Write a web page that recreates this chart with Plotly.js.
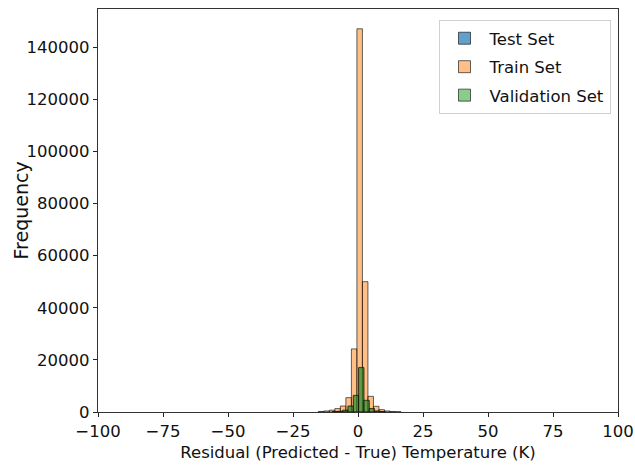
<!DOCTYPE html>
<html>
<head>
<meta charset="utf-8">
<script src="https://cdn.plot.ly/plotly-3.0.1.min.js"></script>
<style>html,body{margin:0;padding:0;background:#fff;}#chart{width:635px;height:465px;}</style>
</head>
<body>
<div id="chart"></div>
<script>
// Bin edges (K) and counts
const trainEdges = [-15.26, -13.14, -11.02, -8.90, -6.78, -4.66, -2.54, -0.42, 1.70, 3.82, 5.94, 8.06, 10.18, 12.30, 14.42, 16.54];
const trainCounts = [200, 400, 700, 1300, 2300, 5500, 24200, 147000, 50000, 6000, 2200, 900, 400, 200, 100];

const valEdges = [-9.97, -7.93, -5.89, -3.85, -1.81, 0.23, 2.27, 4.31, 6.35, 8.39, 10.43];
const valCounts = [100, 250, 700, 2300, 6400, 17100, 4500, 1300, 400, 150];

const testEdges = [-9.97, -7.93, -5.89, -3.85, -1.81, 0.23, 2.27, 4.31, 6.35, 8.39, 10.43];
const testCounts = [90, 230, 650, 2200, 6200, 16800, 4300, 1250, 380, 140];

const xTickVals = [-100, -75, -50, -25, 0, 25, 50, 75, 100];
const xTickText = ["\u2212100", "\u221275", "\u221250", "\u221225", "0", "25", "50", "75", "100"];
const yTickVals = [0, 20000, 40000, 60000, 80000, 100000, 120000, 140000];

function centers(e){ const c=[]; for(let i=0;i<e.length-1;i++) c.push((e[i]+e[i+1])/2); return c; }
function widths(e){ const w=[]; for(let i=0;i<e.length-1;i++) w.push(e[i+1]-e[i]); return w; }

function barTrace(name, group, edges, counts, color){
  return {
    type: 'bar', name: name, legendgroup: group,
    x: centers(edges), y: counts, width: widths(edges),
    marker: {color: color, line: {color: 'rgba(0,0,0,0.6)', width: 1}},
    hoverinfo: 'x+y'
  };
}

const data = [
  barTrace('Test Set', 'g1', testEdges, testCounts, 'rgba(31,119,180,0.7)'),
  barTrace('Train Set', 'g2', trainEdges, trainCounts, 'rgba(255,127,14,0.5)'),
  barTrace('Validation Set', 'g3', valEdges, valCounts, 'rgba(44,160,44,0.55)')
];

const font = {family: 'DejaVu Sans, sans-serif', size: 16.5, color: '#111'};

const layout = {
  width: 635, height: 465,
  margin: {l: 98, r: 17, t: 9, b: 53},
  paper_bgcolor: '#fff', plot_bgcolor: '#fff',
  barmode: 'overlay', bargap: 0,
  font: font,
  showlegend: true,
  legend: {
    x: 0.9856, y: 0.9727, xanchor: 'right', yanchor: 'top',
    bgcolor: 'rgba(255,255,255,0.8)', bordercolor: '#d0d0d0', borderwidth: 1,
    font: {family: 'DejaVu Sans, sans-serif', size: 16.5, color: '#111'},
    tracegroupgap: 4, itemwidth: 40, traceorder: 'grouped'
  },
  xaxis: {
    range: [-100, 100], autorange: false,
    tickmode: 'array', tickvals: xTickVals, ticktext: xTickText,
    ticks: 'outside', ticklen: 4, tickcolor: '#222', tickwidth: 1,
    showline: true, linecolor: '#333', linewidth: 1.2, mirror: true,
    showgrid: false, zeroline: false,
    title: {text: 'Residual (Predicted - True) Temperature (K)', font: font, standoff: 6}
  },
  yaxis: {
    range: [0, 154600], autorange: false,
    tickmode: 'array', tickvals: yTickVals, tickformat: 'd',
    ticks: 'outside', ticklen: 4, tickcolor: '#222', tickwidth: 1,
    showline: true, linecolor: '#333', linewidth: 1.2, mirror: true,
    showgrid: false, zeroline: false
  },
  annotations: [{
    text: 'Frequency', textangle: -90, showarrow: false,
    xref: 'paper', yref: 'paper', x: 0, y: 0.5, xanchor: 'center', yanchor: 'middle',
    xshift: -78,
    font: {family: 'DejaVu Sans, sans-serif', size: 19, color: '#111'}
  }]
};

Plotly.newPlot('chart', data, layout, {displayModeBar: false, staticPlot: true});
</script>
</body>
</html>
